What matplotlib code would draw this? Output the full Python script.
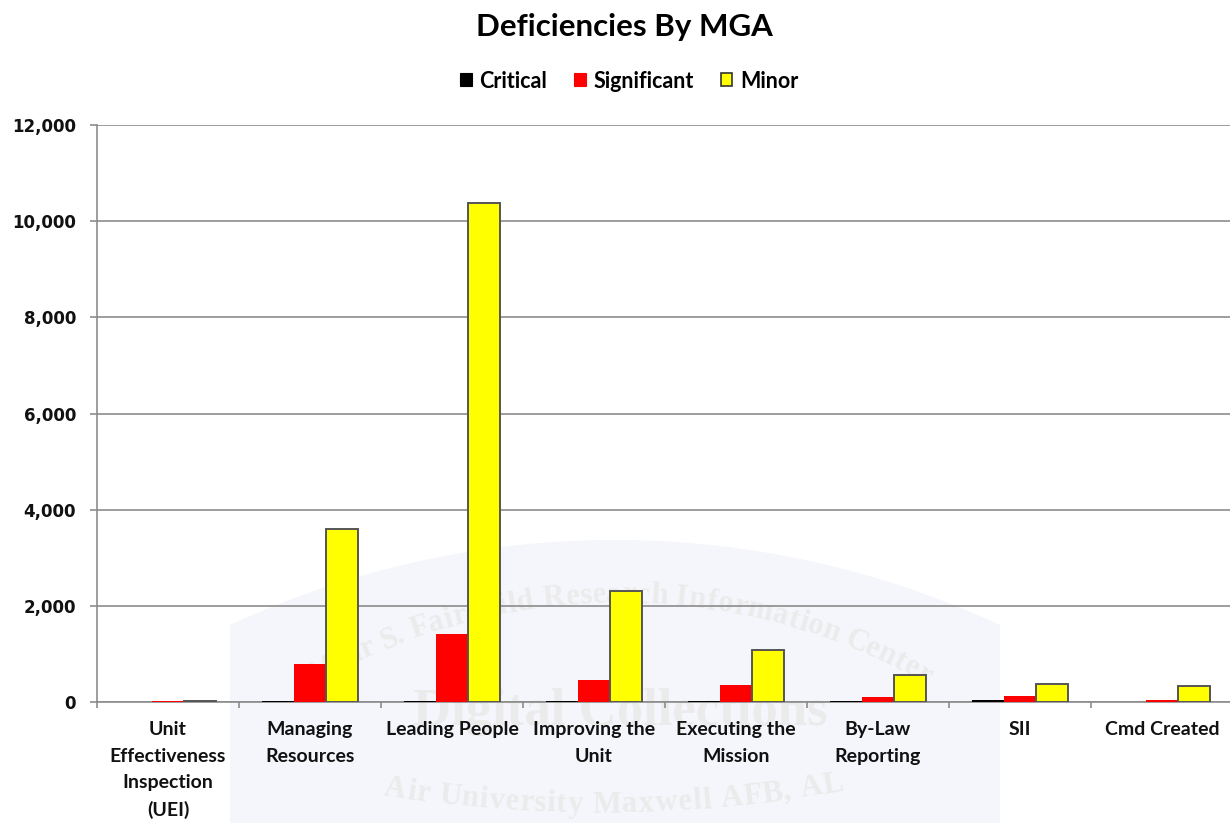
import matplotlib
matplotlib.use("Agg")
import matplotlib.pyplot as plt
import numpy as np
from matplotlib.ticker import FuncFormatter, FixedLocator
from matplotlib.patches import Patch, Polygon
from matplotlib.font_manager import FontProperties
from matplotlib.textpath import TextPath

# Deficiency counts per Major Graded Area
categories = [
    "Unit\nEffectiveness\nInspection\n(UEI)",
    "Managing\nResources",
    "Leading People",
    "Improving the\nUnit",
    "Executing the\nMission",
    "By-Law\nReporting",
    "SII",
    "Cmd Created",
]
critical = [0, 25, 25, 30, 25, 20, 35, 0]
significant = [20, 790, 1420, 460, 355, 100, 115, 50]
minor = [20, 3590, 10380, 2300, 1080, 570, 370, 340]

series_names = ["Critical", "Significant", "Minor"]
y_ticks = [0, 2000, 4000, 6000, 8000, 10000, 12000]

W, H = 1230, 823
fig = plt.figure(figsize=(W / 100, H / 100), dpi=100)
fig.patch.set_facecolor("white")

# ---- faint library seal in the background (pixel coordinates, y up) ----
bg = fig.add_axes([0, 0, 1, 1], zorder=0)
bg.set_xlim(0, W)
bg.set_ylim(0, H)
bg.axis("off")

seal_cx, seal_cy, seal_r = 615, H - 1454, 914
left_x, right_x = 230, 1000
phis = np.linspace(np.arcsin((left_x - seal_cx) / seal_r),
                   np.arcsin((right_x - seal_cx) / seal_r), 80)
top_pts = [(seal_cx + seal_r * np.sin(p), seal_cy + seal_r * np.cos(p)) for p in phis]
shape = [(left_x, -5)] + top_pts + [(right_x, -5)]
bg.add_patch(Polygon(shape, closed=True, facecolor="#f4f6fb", edgecolor="none"))

serif = FontProperties(family="Liberation Serif", weight="bold")
seal_ink = "#ebebeb"


def arc_text(s, cx, cy, r, size_pt, smile=False, phi_mid=0.0):
    """Set the letters of s one by one along a circular arc."""
    size_px = size_pt * 100 / 72
    widths = []
    for ch in s:
        if ch == " ":
            widths.append(0.27 * size_px)
        else:
            ext = TextPath((0, 0), ch, size=size_px, prop=serif).get_extents()
            widths.append(ext.width + 0.07 * size_px)
    pos = -sum(widths) / 2
    for ch, w in zip(s, widths):
        phi = phi_mid + (pos + w / 2) / r
        pos += w
        if ch == " ":
            continue
        if smile:
            xx, yy, rot = cx + r * np.sin(phi), cy - r * np.cos(phi), np.degrees(phi)
        else:
            xx, yy, rot = cx + r * np.sin(phi), cy + r * np.cos(phi), -np.degrees(phi)
        bg.text(xx, yy, ch, fontproperties=serif, fontsize=size_pt, color=seal_ink,
                rotation=rot, rotation_mode="anchor", ha="center", va="center")


arc_text("Muir S. Fairchild Research Information Center", 620, H - 1215, 620, 22)
bg.text(620, H - 712, "Digital Collections", fontproperties=serif, fontsize=38,
        color=seal_ink, ha="center", va="center")
arc_text("Air University Maxwell AFB, AL", 600, H + 536, 1341, 22, smile=True,
         phi_mid=0.01)

# ---- chart ----
ax = fig.add_axes([97 / W, 121 / H, (1233 - 97) / W, 577 / H], zorder=1)
ax.set_facecolor("none")

x = np.arange(len(categories))
bw = 0.225
grid_col = "#8c8c8c"
edge_col = "#555555"

ax.bar(x - bw, critical, bw, color="#000000", linewidth=0, zorder=3)
ax.bar(x, significant, bw, color="#ff0000", linewidth=0, zorder=3)
ax.bar(x + bw, minor, bw, color="#ffff00", edgecolor=edge_col, linewidth=1.4, zorder=3)

ax.set_xlim(-0.5, len(categories) - 0.5)
ax.set_ylim(0, 12000)

ax.yaxis.set_major_locator(FixedLocator(y_ticks))
ax.yaxis.set_major_formatter(FuncFormatter(lambda v, p: f"{int(v):,}"))
ax.grid(axis="y", color=grid_col, linewidth=1.2, zorder=0)
ax.set_axisbelow(True)

# category labels centered on groups, tick marks on group boundaries
ax.set_xticks(x)
ax.set_xticklabels(categories, fontfamily="Lato", fontweight="bold",
                   fontsize=14, linespacing=1.65, color="#111111")
ax.tick_params(axis="x", which="major", length=0, pad=14)
ax.set_xticks(np.arange(len(categories) + 1) - 0.5, minor=True)
ax.tick_params(axis="x", which="minor", length=4.5, width=1.2, color=grid_col)

for lbl in ax.get_yticklabels():
    lbl.set_fontfamily("DejaVu Sans")
    lbl.set_fontweight("bold")
    lbl.set_fontsize(12)
    lbl.set_color("#111111")
ax.tick_params(axis="y", length=5, width=1.2, color=grid_col, pad=10)

for side in ("top", "right"):
    ax.spines[side].set_visible(False)
for side in ("left", "bottom"):
    ax.spines[side].set_color(grid_col)
    ax.spines[side].set_linewidth(1.2)

fig.text(624 / W, 1 - 27 / H, "Deficiencies By MGA", ha="center", va="center",
         fontfamily="Lato", fontweight="bold", fontsize=22.5, color="#000000")

handles = [
    Patch(facecolor="#000000", edgecolor="#000000", linewidth=0.8),
    Patch(facecolor="#ff0000", edgecolor="#ff0000", linewidth=0.8),
    Patch(facecolor="#ffff00", edgecolor="#333333", linewidth=1.2),
]
fig.legend(handles, series_names, loc="center", bbox_to_anchor=(629 / W, 1 - 81 / H),
           ncol=3, frameon=False, handlelength=0.55, handleheight=0.55,
           handletextpad=0.35, columnspacing=1.25,
           prop={"family": "Lato", "weight": "bold", "size": 15.5})

fig.savefig("out.png", dpi=100, facecolor="white")
